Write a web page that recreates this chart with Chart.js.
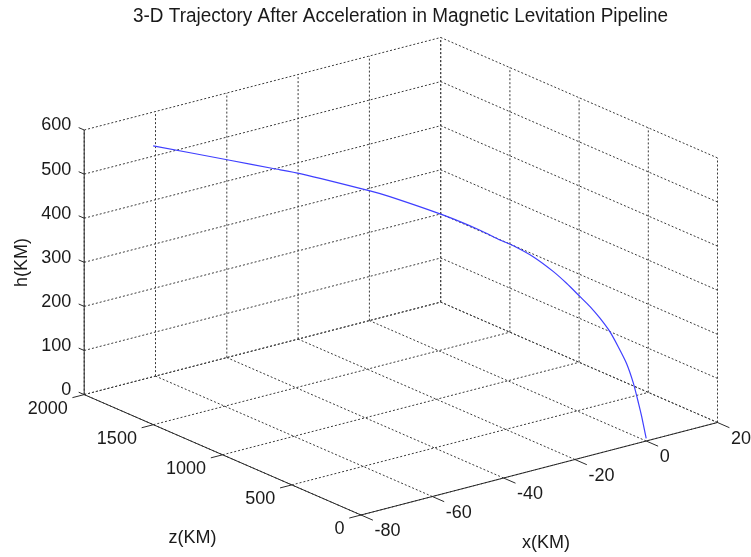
<!DOCTYPE html>
<html>
<head>
<meta charset="utf-8">
<script src="https://cdn.jsdelivr.net/npm/chart.js@4/dist/chart.umd.min.js"></script>
<style>
html, body { margin: 0; padding: 0; background: #ffffff; }
#wrap { width: 751px; height: 557px; }
</style>
</head>
<body>
<div id="wrap"><canvas id="trajChart" width="751" height="557"></canvas></div>
<script>
// ========================================
// Data
// ========================================

const xTicks = [-80, -60, -40, -20, 0, 20];
const zTicks = [0, 500, 1000, 1500, 2000];
const hTicks = [0, 100, 200, 300, 400, 500, 600];

// trajectory (km)
const trajZ = [0, 17, 30, 49, 75, 107, 139, 177, 215, 254, 305, 356, 433, 509, 560, 637, 777, 982, 1058, 1326, 1429, 1595, 1888];
const trajX = [0, -0.6, -1.0, -1.7, -2.6, -3.7, -4.8, -6.1, -7.4, -8.7, -10.5, -12.2, -14.9, -17.5, -19.3, -21.9, -26.7, -33.8, -36.4, -45.6, -49.2, -54.9, -65.0];
const trajH = [6, 54, 84, 128, 171, 207, 239, 267, 291, 311, 338, 361, 390, 410, 420, 437, 462, 491, 499, 521, 526, 534, 548];

// ========================================
// View (orthographic projection of the box)
// ========================================

const X0 = -80, X1 = 20, Z0 = 0, Z1 = 2000, H0 = 0, H1 = 600;

function proj(x, z, h) {
  return {
    x: 361 + 3.565 * (x - X0) - 0.1384 * z,
    y: 515 - 0.925 * (x - X0) - 0.0602 * z - 0.441 * h
  };
}

const gridColor = "#3a3a3a";
const axisColor = "#2b2b2b";
const textColor = "#1a1a1a";
const FONT = "'Liberation Sans', Arial, Helvetica, sans-serif";

function line(a, b, dashed) {
  return {
    data: [a, b],
    showLine: true,
    pointRadius: 0,
    borderWidth: 1,
    borderColor: dashed ? gridColor : axisColor,
    borderDash: dashed ? [2, 2] : [],
    tension: 0
  };
}

const datasets = [];

// trajectory (first = drawn on top)
datasets.push({
  data: trajZ.map((z, i) => proj(trajX[i], z, trajH[i])),
  showLine: true,
  pointRadius: 0,
  borderWidth: 1.2,
  borderColor: "#3f3fff",
  tension: 0.2
});

// axes
datasets.push(line(proj(X0, Z1, H0), proj(X0, Z1, H1), false));
datasets.push(line(proj(X0, Z0, H0), proj(X0, Z1, H0), false));
datasets.push(line(proj(X0, Z0, H0), proj(X1, Z0, H0), false));

// tick marks
hTicks.forEach(h => datasets.push(line(proj(X0, Z1, h), proj(X0, Z1 + 40, h), false)));
zTicks.forEach(z => datasets.push(line(proj(X0, z, H0), proj(X0 - 3.3, z, H0), false)));
xTicks.forEach(x => datasets.push(line(proj(x, Z0, H0), proj(x, Z0 - 86, H0), false)));

// grid: right wall x = X1
zTicks.forEach(z => datasets.push(line(proj(X1, z, H0), proj(X1, z, H1), true)));
hTicks.forEach(h => datasets.push(line(proj(X1, Z0, h), proj(X1, Z1, h), true)));

// grid: back wall z = Z1
xTicks.forEach(x => datasets.push(line(proj(x, Z1, H0), proj(x, Z1, H1), true)));
hTicks.forEach(h => datasets.push(line(proj(X0, Z1, h), proj(X1, Z1, h), true)));

// grid: floor h = H0
xTicks.forEach(x => datasets.push(line(proj(x, Z0, H0), proj(x, Z1, H0), true)));
zTicks.forEach(z => datasets.push(line(proj(X0, z, H0), proj(X1, z, H0), true)));

// ========================================
// Labels
// ========================================

const labelPlugin = {
  id: "labels3d",
  afterDraw(chart) {
    const ctx = chart.ctx;
    const sx = chart.scales.x, sy = chart.scales.y;
    const px = p => sx.getPixelForValue(p.x);
    const py = p => sy.getPixelForValue(p.y);

    ctx.save();
    ctx.fillStyle = textColor;

    // title, fitted to the reference width
    const title = "3-D Trajectory After Acceleration in Magnetic Levitation Pipeline";
    ctx.font = "20px " + FONT;
    const w = ctx.measureText(title).width;
    const k = 535 / w;
    ctx.save();
    ctx.translate(133, 22);
    ctx.scale(k, 1);
    ctx.textAlign = "left";
    ctx.textBaseline = "alphabetic";
    ctx.fillText(title, 0, 0);
    ctx.restore();

    ctx.font = "18px " + FONT;
    ctx.textBaseline = "middle";

    ctx.textAlign = "right";
    hTicks.forEach(h => {
      const p = proj(X0, Z1, h);
      ctx.fillText(String(h), px(p) - 13, py(p) - 4.5);
    });
    zTicks.forEach(z => {
      const p = proj(X0, z, H0);
      ctx.fillText(String(z), px(p) - 16.5, py(p) + 14.5);
    });

    ctx.textAlign = "left";
    xTicks.forEach(x => {
      const p = proj(x, Z0, H0);
      ctx.fillText(String(x), px(p) + 13.5, py(p) + 16.5);
    });

    ctx.textAlign = "center";
    ctx.fillText("z(KM)", 192.5, 538);
    ctx.fillText("x(KM)", 546, 543.5);

    ctx.save();
    ctx.translate(22, 262.5);
    ctx.rotate(-Math.PI / 2);
    ctx.fillText("h(KM)", 0, 0);
    ctx.restore();

    ctx.restore();
  }
};

// ========================================
// Chart
// ========================================

new Chart(

document.getElementById("trajChart"),

{

type: "scatter",

data: { datasets: datasets },

options: {
  responsive: false,
  animation: false,
  layout: { padding: 0 },
  plugins: {
    legend: { display: false },
    tooltip: { enabled: false },
    title: { display: false }
  },
  scales: {
    x: { type: "linear", min: 0, max: 751, display: false },
    y: { type: "linear", min: 0, max: 557, reverse: true, display: false }
  }
},

plugins: [labelPlugin]

}

);
</script>
</body>
</html>
